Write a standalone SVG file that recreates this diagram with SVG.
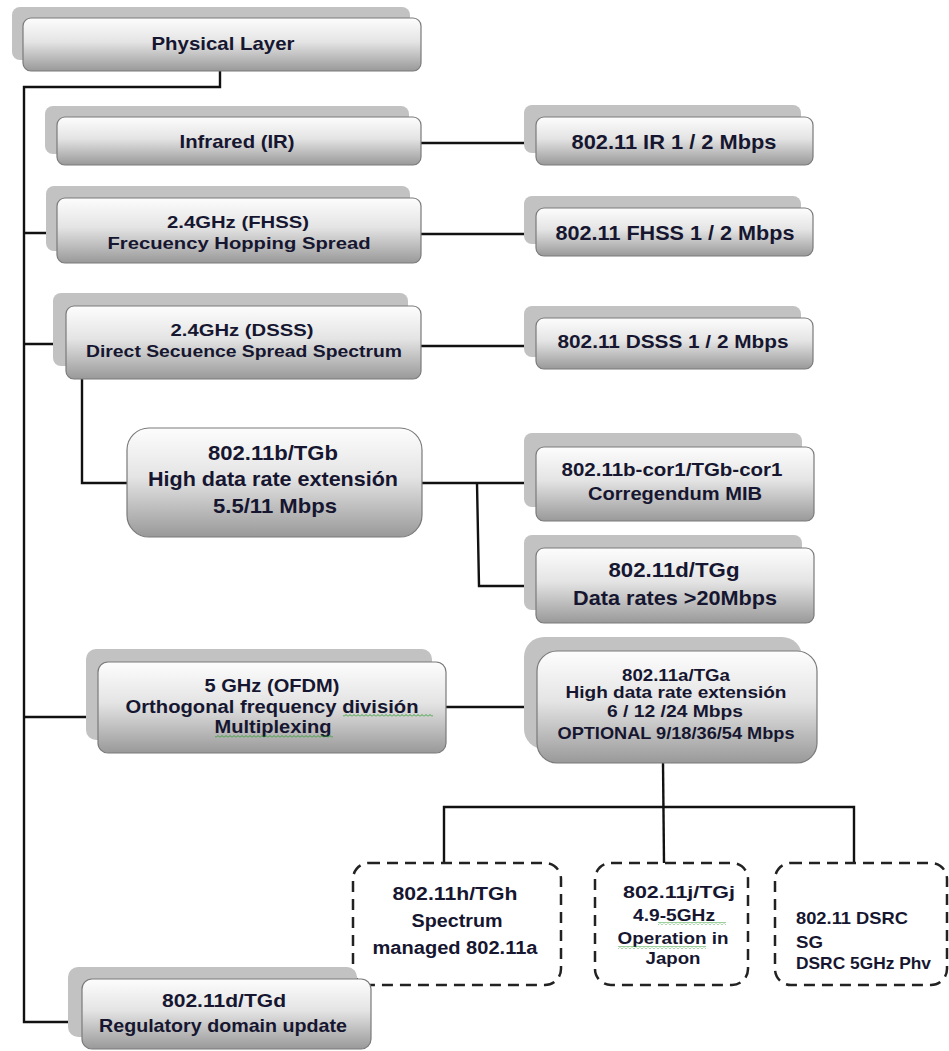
<svg xmlns="http://www.w3.org/2000/svg" width="949" height="1051" viewBox="0 0 949 1051">
  <defs>
    <linearGradient id="boxFill" x1="0" y1="0" x2="0" y2="1">
      <stop offset="0" stop-color="#fdfdfd"/>
      <stop offset="0.45" stop-color="#e4e4e4"/>
      <stop offset="1" stop-color="#999"/>
    </linearGradient>
    <pattern id="squiggle" width="4" height="3" patternUnits="userSpaceOnUse">
      <polyline points="0,2.5 2,0.5 4,2.5" fill="none" stroke="#2a9a2a" stroke-width="0.9"/>
    </pattern>
    <clipPath id="fhssClip"><rect x="50" y="190" width="380" height="62"/></clipPath>
  </defs>
  <style>
    .shadow { fill: #c2c2c2; }
    .box { fill: url(#boxFill); stroke: #7a7a7a; stroke-width: 1.2; }
    .dash { fill: #fff; stroke: #222; stroke-width: 2.5; stroke-dasharray: 11 7; }
    .wire { fill: none; stroke: #111; stroke-width: 2.4; }
    text { font-family: "Liberation Sans", Arial, sans-serif; font-weight: bold; fill: #161630; text-anchor: middle; }
    .l { text-anchor: start; }
  </style>

  <!-- connectors -->
  <g id="connectors">
    <polyline class="wire" points="220,71 220,87 24,87 24,1022 82,1022"/>
    <line class="wire" x1="24" y1="233" x2="57" y2="233"/>
    <line class="wire" x1="24" y1="344" x2="66" y2="344"/>
    <line class="wire" x1="24" y1="717" x2="98" y2="717"/>
    <line class="wire" x1="421" y1="143" x2="536" y2="143"/>
    <line class="wire" x1="421" y1="234" x2="536" y2="234"/>
    <line class="wire" x1="421" y1="346" x2="536" y2="346"/>
    <polyline class="wire" points="82,379 82,483 127,483"/>
    <line class="wire" x1="422" y1="483" x2="536" y2="483"/>
    <polyline class="wire" points="477,483 479,586 536,586"/>
    <line class="wire" x1="446" y1="707" x2="537" y2="707"/>
    <line class="wire" x1="663" y1="763" x2="664" y2="863"/>
    <polyline class="wire" points="444,863 444,807 854,807 854,863"/>
  </g>

  <g id="physical-layer">
    <rect class="shadow" x="12" y="7" width="398" height="53" rx="8"/>
    <rect class="box" x="23" y="18" width="398" height="53" rx="8"/>
    <text x="223" y="50" font-size="19" textLength="143" lengthAdjust="spacingAndGlyphs">Physical Layer</text>
  </g>

  <g id="infrared">
    <rect class="shadow" x="45" y="106" width="364" height="48" rx="8"/>
    <rect class="box" x="57" y="117" width="364" height="48" rx="8"/>
    <text x="237" y="148" font-size="19" textLength="115" lengthAdjust="spacingAndGlyphs">Infrared (IR)</text>
  </g>

  <g id="fhss">
    <rect class="shadow" x="46" y="186" width="364" height="65" rx="8"/>
    <rect class="box" x="57" y="198" width="364" height="65" rx="8"/>
    <text x="238" y="228" font-size="17" textLength="142" lengthAdjust="spacingAndGlyphs">2.4GHz (FHSS)</text>
    <text x="239" y="249" font-size="17" textLength="263" lengthAdjust="spacingAndGlyphs" clip-path="url(#fhssClip)">Frecuency Hopping Spread</text>
  </g>

  <g id="dsss">
    <rect class="shadow" x="53" y="293" width="355" height="73" rx="8"/>
    <rect class="box" x="66" y="306" width="355" height="73" rx="8"/>
    <text x="242" y="336" font-size="17" textLength="143" lengthAdjust="spacingAndGlyphs">2.4GHz (DSSS)</text>
    <text x="244" y="357" font-size="17" textLength="316" lengthAdjust="spacingAndGlyphs">Direct Secuence Spread Spectrum</text>
  </g>

  <g id="tgb">
    <rect class="box" x="127" y="428" width="295" height="109" rx="22"/>
    <text x="273" y="460" font-size="21" textLength="130" lengthAdjust="spacingAndGlyphs">802.11b/TGb</text>
    <text x="273" y="486" font-size="21" textLength="250" lengthAdjust="spacingAndGlyphs">High data rate extensión</text>
    <text x="275" y="513" font-size="21" textLength="124" lengthAdjust="spacingAndGlyphs">5.5/11 Mbps</text>
  </g>

  <g id="ir-rate">
    <rect class="shadow" x="524" y="105" width="277" height="48" rx="8"/>
    <rect class="box" x="536" y="117" width="277" height="48" rx="8"/>
    <text x="674" y="149" font-size="21" textLength="205" lengthAdjust="spacingAndGlyphs">802.11 IR 1 / 2 Mbps</text>
  </g>

  <g id="fhss-rate">
    <rect class="shadow" x="524" y="196" width="277" height="48" rx="8"/>
    <rect class="box" x="536" y="208" width="277" height="48" rx="8"/>
    <text x="675" y="240" font-size="20" textLength="239" lengthAdjust="spacingAndGlyphs">802.11 FHSS 1 / 2 Mbps</text>
  </g>

  <g id="dsss-rate">
    <rect class="shadow" x="524" y="306" width="277" height="51" rx="8"/>
    <rect class="box" x="536" y="318" width="277" height="51" rx="8"/>
    <text x="673" y="348" font-size="18" textLength="231" lengthAdjust="spacingAndGlyphs">802.11 DSSS 1 / 2 Mbps</text>
  </g>

  <g id="tgb-cor1">
    <rect class="shadow" x="524" y="433" width="278" height="74" rx="8"/>
    <rect class="box" x="536" y="447" width="278" height="74" rx="8"/>
    <text x="672" y="476" font-size="19" textLength="221" lengthAdjust="spacingAndGlyphs">802.11b-cor1/TGb-cor1</text>
    <text x="675" y="500" font-size="19" textLength="174" lengthAdjust="spacingAndGlyphs">Corregendum MIB</text>
  </g>

  <g id="tgg">
    <rect class="shadow" x="524" y="535" width="278" height="75" rx="8"/>
    <rect class="box" x="536" y="548" width="278" height="75" rx="8"/>
    <text x="674" y="577" font-size="21" textLength="131" lengthAdjust="spacingAndGlyphs">802.11d/TGg</text>
    <text x="675" y="605" font-size="21" textLength="204" lengthAdjust="spacingAndGlyphs">Data rates &gt;20Mbps</text>
  </g>

  <g id="ofdm">
    <rect class="shadow" x="86" y="649" width="346" height="91" rx="10"/>
    <rect class="box" x="98" y="662" width="348" height="91" rx="10"/>
    <text x="272" y="692" font-size="18" textLength="135" lengthAdjust="spacingAndGlyphs">5 GHz (OFDM)</text>
    <text x="272" y="713" font-size="18" textLength="293" lengthAdjust="spacingAndGlyphs">Orthogonal frequency división</text>
    <text x="273" y="733" font-size="18" textLength="117" lengthAdjust="spacingAndGlyphs">Multiplexing</text>
    <rect x="343" y="714" width="90" height="3" fill="url(#squiggle)"/>
    <rect x="215" y="735" width="118" height="3" fill="url(#squiggle)"/>
  </g>

  <g id="tga">
    <rect class="shadow" x="524" y="637" width="278" height="112" rx="20"/>
    <rect class="box" x="537" y="651" width="280" height="112" rx="20"/>
    <text x="676" y="681" font-size="17" textLength="108" lengthAdjust="spacingAndGlyphs">802.11a/TGa</text>
    <text x="676" y="698" font-size="17" textLength="221" lengthAdjust="spacingAndGlyphs">High data rate extensión</text>
    <text x="675" y="717" font-size="17" textLength="136" lengthAdjust="spacingAndGlyphs">6 / 12 /24 Mbps</text>
    <text x="676" y="739" font-size="17" textLength="237" lengthAdjust="spacingAndGlyphs">OPTIONAL 9/18/36/54 Mbps</text>
  </g>

  <g id="tgh">
    <rect class="dash" x="353" y="863" width="208" height="122" rx="16"/>
    <text x="455" y="900" font-size="18" textLength="125" lengthAdjust="spacingAndGlyphs">802.11h/TGh</text>
    <text x="457" y="927" font-size="18" textLength="91" lengthAdjust="spacingAndGlyphs">Spectrum</text>
    <text x="455" y="954" font-size="18" textLength="165" lengthAdjust="spacingAndGlyphs">managed 802.11a</text>
  </g>

  <g id="tgj">
    <rect class="dash" x="595" y="863" width="153" height="122" rx="16"/>
    <text x="679" y="898" font-size="17" textLength="112" lengthAdjust="spacingAndGlyphs">802.11j/TGj</text>
    <text x="674" y="921" font-size="17" textLength="82" lengthAdjust="spacingAndGlyphs">4.9-5GHz</text>
    <text x="673" y="944" font-size="17" textLength="111" lengthAdjust="spacingAndGlyphs">Operation in</text>
    <text x="673" y="964" font-size="17" textLength="55" lengthAdjust="spacingAndGlyphs">Japon</text>
    <rect x="658" y="922" width="68" height="3" fill="url(#squiggle)"/>
    <rect x="618" y="946" width="88" height="3" fill="url(#squiggle)"/>
  </g>

  <g id="dsrc">
    <rect class="dash" x="775" y="863" width="172" height="122" rx="16"/>
    <text class="l" x="796" y="924" font-size="17" textLength="112" lengthAdjust="spacingAndGlyphs">802.11 DSRC</text>
    <text class="l" x="796" y="948" font-size="17" textLength="27" lengthAdjust="spacingAndGlyphs">SG</text>
    <text class="l" x="796" y="969" font-size="17" textLength="135" lengthAdjust="spacingAndGlyphs">DSRC 5GHz Phv</text>
  </g>

  <g id="tgd">
    <rect class="shadow" x="68" y="967" width="289" height="70" rx="10"/>
    <rect class="box" x="82" y="979" width="289" height="70" rx="10"/>
    <text x="224" y="1007" font-size="19" textLength="124" lengthAdjust="spacingAndGlyphs">802.11d/TGd</text>
    <text x="223" y="1032" font-size="19" textLength="248" lengthAdjust="spacingAndGlyphs">Regulatory domain update</text>
  </g>
</svg>
